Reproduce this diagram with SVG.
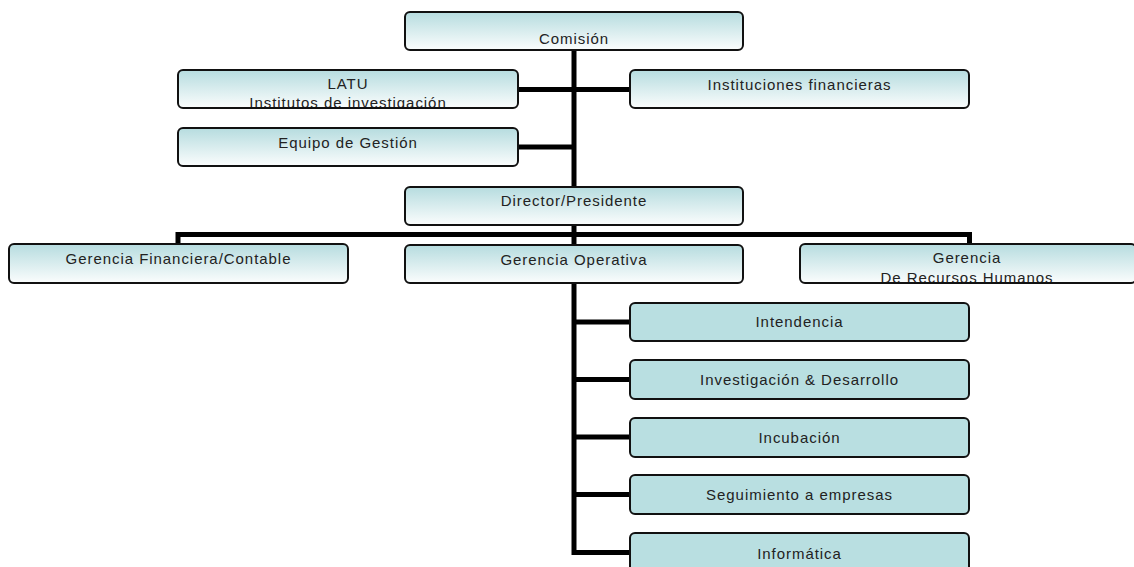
<svg xmlns="http://www.w3.org/2000/svg" width="1134" height="567" viewBox="0 0 1134 567">
<defs>
<linearGradient id="g" x1="0" y1="0" x2="0" y2="1">
<stop offset="0" stop-color="#b6dcdf"/>
<stop offset="1" stop-color="#fbfdfd"/>
</linearGradient>
<clipPath id="cLatu"><rect x="178" y="70" width="340" height="37"/></clipPath>
<clipPath id="cRRHH"><rect x="800" y="244" width="334" height="38"/></clipPath>
</defs>
<style>
.b{fill:url(#g);stroke:#111;stroke-width:2}
.s{fill:#b9dfe1;stroke:#111;stroke-width:2}
.t{font-family:"Liberation Sans",Arial,sans-serif;font-size:15px;fill:#222;text-anchor:middle;letter-spacing:0.95px}
.c{stroke:#000;stroke-width:5;fill:none}
</style>
<rect width="1134" height="567" fill="#fff"/>
<g id="connectors">
<line class="c" x1="574" y1="50" x2="574" y2="187"/>
<line class="c" x1="518" y1="89.5" x2="630" y2="89.5"/>
<line class="c" x1="518" y1="147" x2="574" y2="147"/>
<line class="c" x1="574" y1="225" x2="574" y2="245"/>
<path class="c" d="M178,244 V234.5 H969.5 V244"/>
<line class="c" x1="574" y1="283" x2="574" y2="555"/>
<line class="c" x1="574" y1="322" x2="630" y2="322"/>
<line class="c" x1="574" y1="379.5" x2="630" y2="379.5"/>
<line class="c" x1="574" y1="437" x2="630" y2="437"/>
<line class="c" x1="574" y1="494.5" x2="630" y2="494.5"/>
<path class="c" d="M574,552.5 H630"/>
</g>
<g id="comision"><rect class="b" x="405" y="12" width="338" height="38" rx="5"/><text class="t" x="574" y="43.5">Comisión</text></g>
<g id="latu"><rect class="b" x="178" y="70" width="340" height="38" rx="5"/><g clip-path="url(#cLatu)"><text class="t" x="348" y="89">LATU</text><text class="t" x="348" y="108">Institutos de investigación</text></g></g>
<g id="instituciones"><rect class="b" x="630" y="70" width="339" height="38" rx="5"/><text class="t" x="799.5" y="90">Instituciones financieras</text></g>
<g id="equipo"><rect class="b" x="178" y="128" width="340" height="38" rx="5"/><text class="t" x="348" y="148">Equipo de Gestión</text></g>
<g id="director"><rect class="b" x="405" y="187" width="338" height="38" rx="5"/><text class="t" x="574" y="206">Director/Presidente</text></g>
<g id="gfin"><rect class="b" x="9" y="244" width="339" height="39" rx="5"/><text class="t" x="178.5" y="264">Gerencia Financiera/Contable</text></g>
<g id="gop"><rect class="b" x="405" y="245" width="338" height="38" rx="5"/><text class="t" x="574" y="264.5">Gerencia Operativa</text></g>
<g id="grrhh"><rect class="b" x="800" y="244" width="336" height="39" rx="5"/><g clip-path="url(#cRRHH)"><text class="t" x="967" y="263">Gerencia</text><text class="t" x="967" y="283">De Recursos Humanos</text></g></g>
<g id="intendencia"><rect class="s" x="630" y="303" width="339" height="38" rx="5"/><text class="t" x="799.5" y="326.5">Intendencia</text></g>
<g id="investigacion"><rect class="s" x="630" y="360" width="339" height="39" rx="5"/><text class="t" x="799.5" y="384.5">Investigación &amp; Desarrollo</text></g>
<g id="incubacion"><rect class="s" x="630" y="418" width="339" height="39" rx="5"/><text class="t" x="799.5" y="442.5">Incubación</text></g>
<g id="seguimiento"><rect class="s" x="630" y="475" width="339" height="39" rx="5"/><text class="t" x="799.5" y="499.5">Seguimiento a empresas</text></g>
<g id="informatica"><rect class="s" x="630" y="533" width="339" height="40" rx="5"/><text class="t" x="799.5" y="558.5">Informática</text></g>
</svg>
